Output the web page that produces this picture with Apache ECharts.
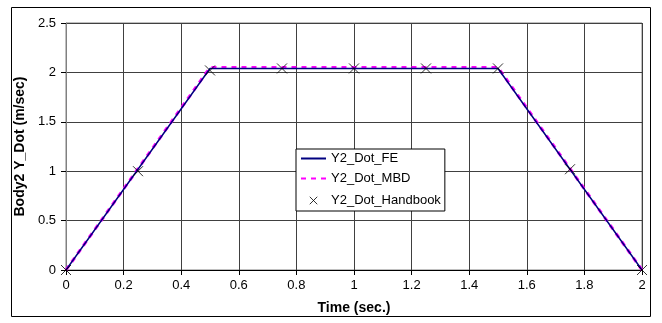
<!DOCTYPE html>
<html>
<head>
<meta charset="utf-8">
<script src="https://cdn.jsdelivr.net/npm/echarts@6/dist/echarts.min.js"></script>
<style>
  html, body { margin: 0; padding: 0; background: #fff; }
  #chart { width: 662px; height: 323px; }
</style>
</head>
<body>
<div id="chart"></div>
<script>
// FE solution (solid navy)
const feTime = [0, 0.5, 1.5, 2];
const feValue = [0, 2.04, 2.04, 0];
// MBD solution (dashed magenta)
const mbdTime = [0, 0.5, 1.5, 2];
const mbdValue = [0, 2.05, 2.05, 0];
// handbook points (x markers)
const hbTime = [0, 0.25, 0.5, 0.75, 1, 1.25, 1.5, 1.75, 2];
const hbValue = [0, 1.0, 2.02, 2.04, 2.04, 2.04, 2.04, 1.02, 0];

const pairs = (xs, ys) => xs.map((x, i) => [x, ys[i]]);

const chart = echarts.init(document.getElementById('chart'));
const font = 'Liberation Sans, Arial, sans-serif';
const xMark = 'path://M0,0L10,10M10,0L0,10';
// same cross but with empty margin so the legend draws it smaller
const xMarkSmall = 'path://M-3,-3M0,0L10,10M10,0L0,10M13,13';

chart.setOption({
    animation: false,
    textStyle: { fontFamily: font },
    graphic: [{
        type: 'rect',
        shape: { x: 11.5, y: 7.5, width: 639, height: 309 },
        style: { fill: 'none', stroke: '#000', lineWidth: 1 },
        silent: true
    }],
    grid: {
        left: 66, right: 20, top: 23, bottom: 53,
        show: true, borderColor: '#808080', borderWidth: 1
    },
    legend: {
        orient: 'vertical',
        left: 296, top: 149,
        padding: [3, 4, 2, 4],
        itemGap: 7,
        itemWidth: 25, itemHeight: 12,
        backgroundColor: '#fff',
        borderColor: '#000', borderWidth: 1,
        textStyle: { fontSize: 13, color: '#000', fontFamily: font },
        data: [
            { name: 'Y2_Dot_FE', itemStyle: { color: 'transparent', borderWidth: 0 } },
            { name: 'Y2_Dot_MBD', itemStyle: { color: 'transparent', borderWidth: 0 } },
            { name: 'Y2_Dot_Handbook', icon: xMarkSmall, itemStyle: { color: 'none', borderColor: '#000', borderWidth: 1 } }
        ]
    },
    xAxis: {
        type: 'value', min: 0, max: 2, interval: 0.2,
        name: 'Time (sec.)', nameLocation: 'middle', nameGap: 31,
        nameTextStyle: { fontSize: 14, fontWeight: 'bold', color: '#000' },
        axisLine: { lineStyle: { color: '#000' } },
        axisTick: { show: true, length: 5, lineStyle: { color: '#000' } },
        axisLabel: { fontSize: 13, color: '#000', margin: 9 },
        splitLine: { show: true, lineStyle: { color: '#404040', width: 1 } }
    },
    yAxis: {
        type: 'value', min: 0, max: 2.5, interval: 0.5,
        name: 'Body2 Y_Dot (m/sec)', nameLocation: 'middle', nameGap: 35,
        nameTextStyle: { fontSize: 14, fontWeight: 'bold', color: '#000' },
        axisLine: { show: true, lineStyle: { color: '#808080' } },
        axisTick: { show: true, length: 5, lineStyle: { color: '#000' } },
        axisLabel: { fontSize: 13, color: '#000', margin: 10 },
        splitLine: { show: true, lineStyle: { color: '#404040', width: 1 } }
    },
    series: [
        {
            name: 'Y2_Dot_FE', type: 'line', symbol: 'none',
            data: pairs(feTime, feValue),
            lineStyle: { color: '#000080', width: 1.5 },
            itemStyle: { color: '#000080' },
            z: 3
        },
        {
            name: 'Y2_Dot_MBD', type: 'line', symbol: 'none',
            data: pairs(mbdTime, mbdValue),
            lineStyle: { color: '#ff00ff', width: 3, type: [5, 5] },
            itemStyle: { color: '#ff00ff' },
            z: 2
        },
        {
            name: 'Y2_Dot_Handbook', type: 'scatter',
            symbol: xMark, symbolSize: 10,
            data: pairs(hbTime, hbValue),
            itemStyle: { color: 'none', borderColor: '#000', borderWidth: 1 },
            z: 4
        }
    ]
});
</script>
</body>
</html>
